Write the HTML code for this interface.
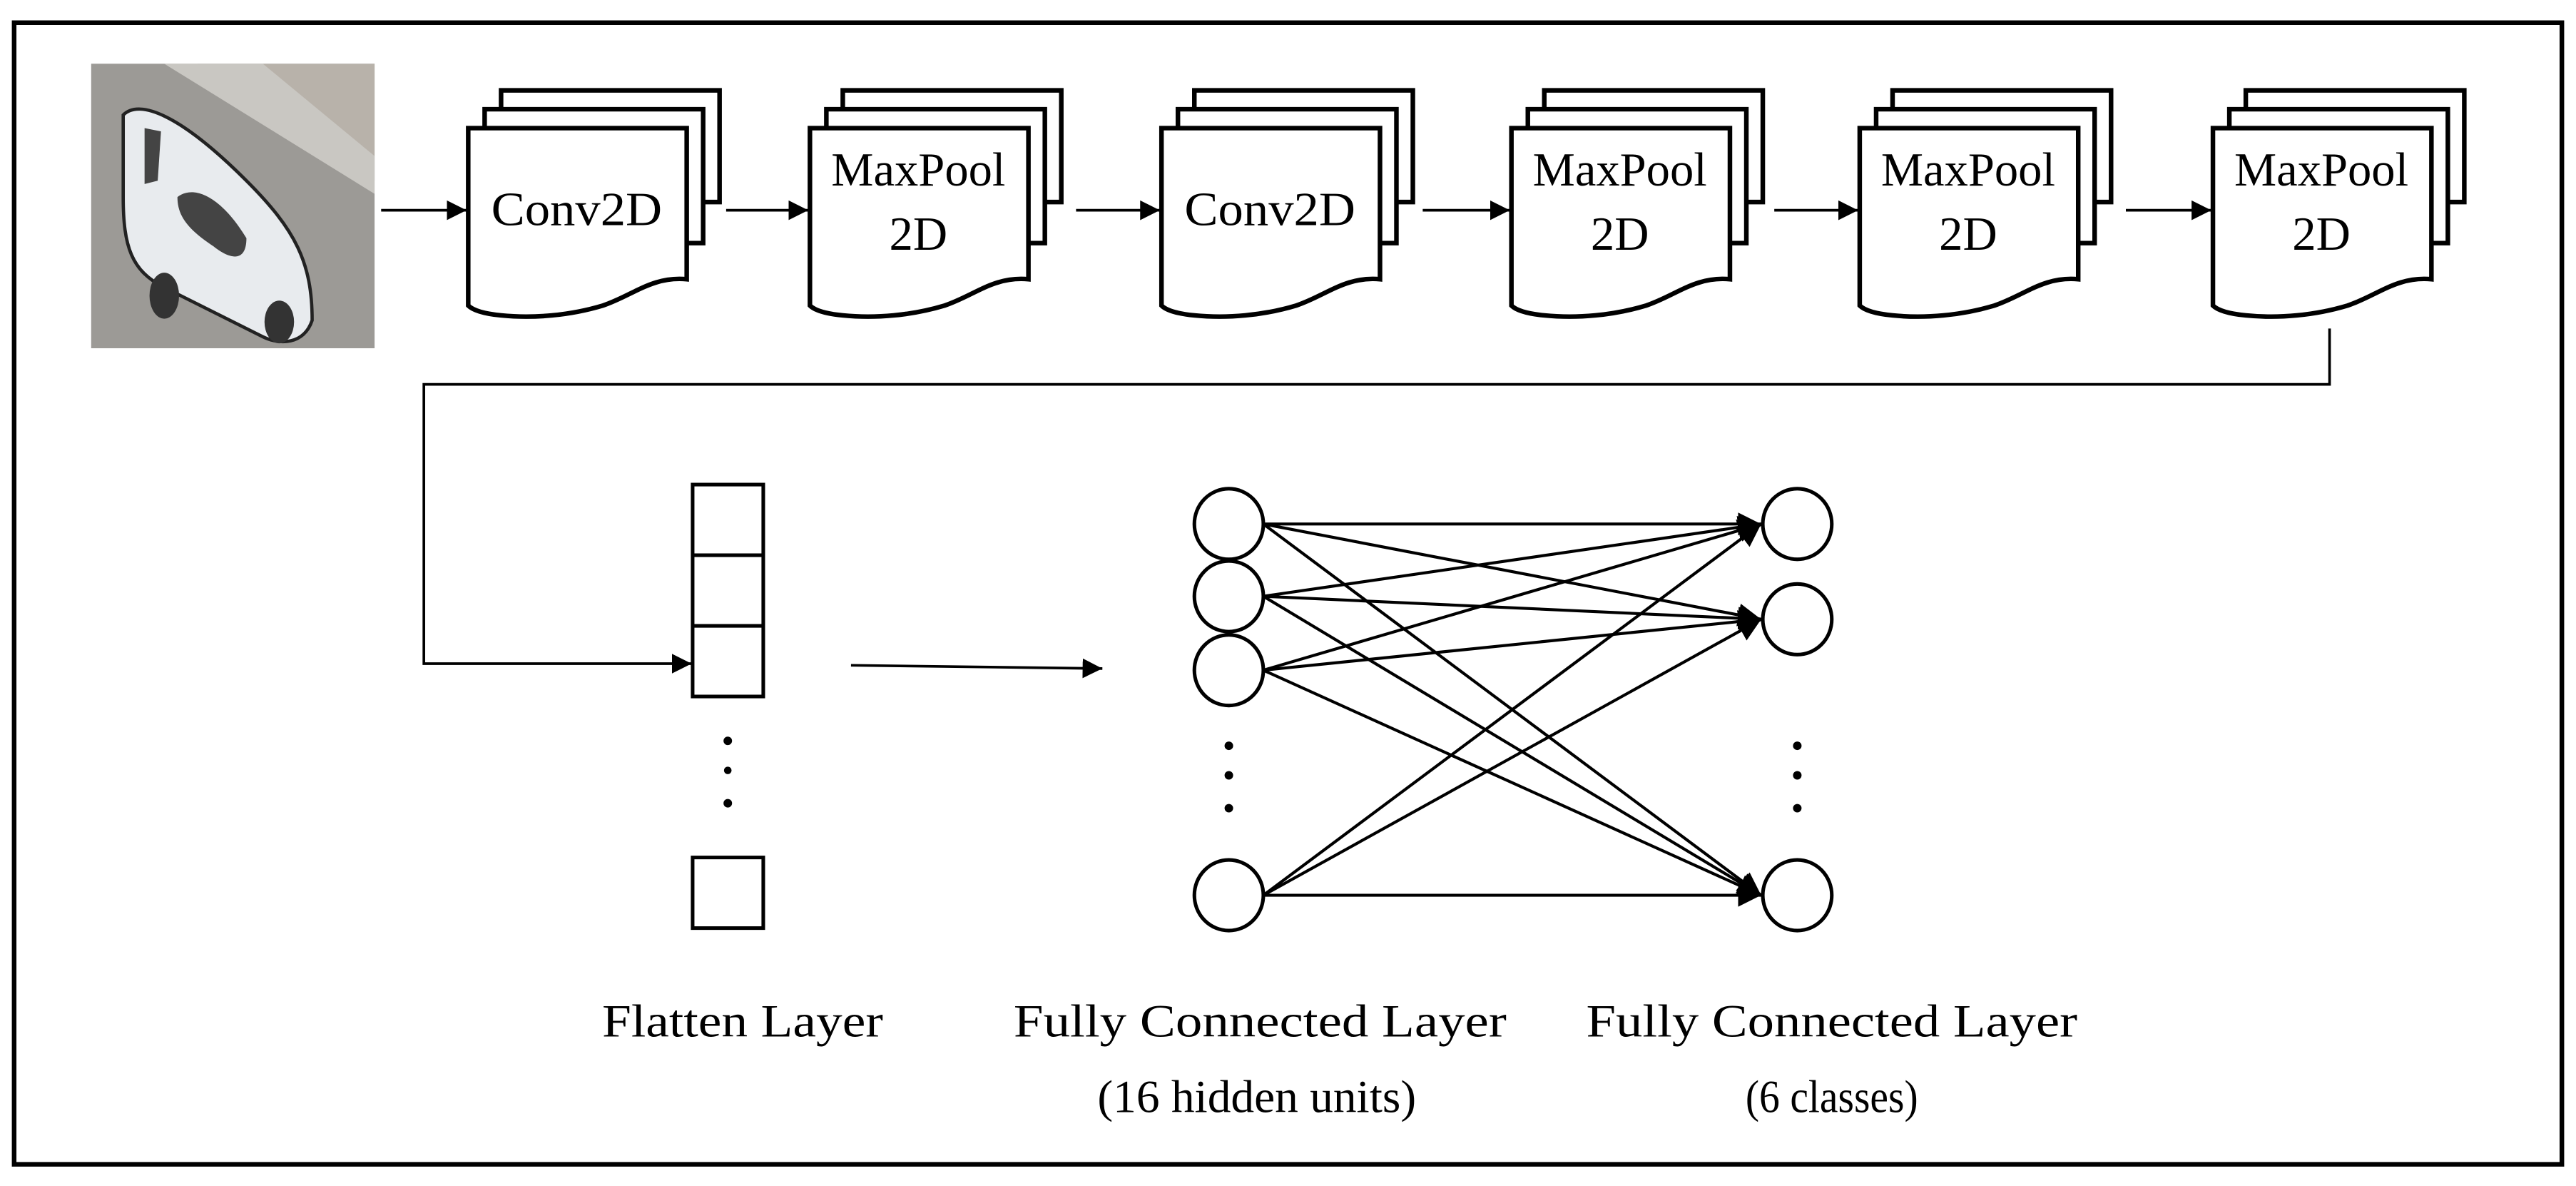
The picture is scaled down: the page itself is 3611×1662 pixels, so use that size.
<!DOCTYPE html>
<html><head><meta charset="utf-8"><style>
html,body{margin:0;padding:0;background:#fff;}
svg{display:block;}
text{font-family:"Liberation Serif",serif;fill:#000;}
</style></head><body>
<svg width="3611" height="1662" viewBox="0 0 1568 722" preserveAspectRatio="none" xmlns="http://www.w3.org/2000/svg">
<defs>
<marker id="ah" viewBox="0 0 10 10" refX="10" refY="5" markerWidth="12" markerHeight="12" markerUnits="userSpaceOnUse" orient="auto"><path d="M0,0 L10,5 L0,10 z" fill="#000"/></marker>
<marker id="ah2" viewBox="0 0 10 10" refX="10" refY="5" markerWidth="14" markerHeight="14" markerUnits="userSpaceOnUse" orient="auto"><path d="M0,0 L10,5 L0,10 z" fill="#000"/></marker>
<g id="stack">
<path d="M20,-23 L153,-23 L153,45 L20,45 z" fill="#fff" stroke="#000" stroke-width="2.8"/>
<path d="M10,-11.5 L143,-11.5 L143,70 L10,70 z" fill="#fff" stroke="#000" stroke-width="2.8"/>
<path d="M0,0 L133,0 L133,92 C112,90 100,102 82,108 C62,114 40,116 20,114 C10,113 3,111 0,108 z" fill="#fff" stroke="#000" stroke-width="2.8"/>
</g>
</defs>
<rect x="0" y="0" width="1568" height="722" fill="#fff"/>
<rect x="8.6" y="13.8" width="1550.8" height="695" fill="none" stroke="#000" stroke-width="2.8"/>

<!-- car image -->
<rect x="55.5" y="38.8" width="172.5" height="173.2" fill="#9c9a96"/>
<path d="M55.5,38.8 L228,38.8 L228,110 L175,65 L120,38.8z" fill="#b8b2aa"/>
<path d="M100,38.8 L160,38.8 L228,95 L228,118 Z" fill="#c9c7c2"/>
<path d="M75,70 C85,60 110,70 150,110 C180,140 190,160 190,195 C185,210 170,210 160,205 L100,175 C80,165 75,150 75,120 Z" fill="#e8ebee" stroke="#222" stroke-width="2"/>
<path d="M88,78 L98,80 L96,110 L88,112 Z" fill="#444"/>
<path d="M108,120 C118,112 135,120 150,145 C150,160 140,158 130,150 C115,140 108,132 108,120Z" fill="#444"/>
<ellipse cx="100" cy="180" rx="9" ry="14" fill="#333"/>
<ellipse cx="170" cy="196" rx="9" ry="13" fill="#333"/>

<g stroke="#000" stroke-width="1.6" fill="none">
<line x1="232" y1="128" x2="284" y2="128" marker-end="url(#ah)"/>
<line x1="442" y1="128" x2="492" y2="128" marker-end="url(#ah)"/>
<line x1="655" y1="128" x2="706" y2="128" marker-end="url(#ah)"/>
<line x1="866" y1="128" x2="919" y2="128" marker-end="url(#ah)"/>
<line x1="1080" y1="128" x2="1131" y2="128" marker-end="url(#ah)"/>
<line x1="1294" y1="128" x2="1346" y2="128" marker-end="url(#ah)"/>
<polyline points="1418,200 1418,234 258,234 258,404 421,404" marker-end="url(#ah)"/>
<path d="M518,405 L671,407" marker-end="url(#ah)"/>
</g>

<use href="#stack" x="285" y="78"/>
<use href="#stack" x="493" y="78"/>
<use href="#stack" x="707" y="78"/>
<use href="#stack" x="920" y="78"/>
<use href="#stack" x="1132" y="78"/>
<use href="#stack" x="1347" y="78"/>

<g font-size="29">
<text x="351" y="137" text-anchor="middle" textLength="104" lengthAdjust="spacingAndGlyphs">Conv2D</text>
<text x="559" y="113" text-anchor="middle" textLength="106" lengthAdjust="spacingAndGlyphs">MaxPool</text>
<text x="559" y="152" text-anchor="middle">2D</text>
<text x="773" y="137" text-anchor="middle" textLength="104" lengthAdjust="spacingAndGlyphs">Conv2D</text>
<text x="986" y="113" text-anchor="middle" textLength="106" lengthAdjust="spacingAndGlyphs">MaxPool</text>
<text x="986" y="152" text-anchor="middle">2D</text>
<text x="1198" y="113" text-anchor="middle" textLength="106" lengthAdjust="spacingAndGlyphs">MaxPool</text>
<text x="1198" y="152" text-anchor="middle">2D</text>
<text x="1413" y="113" text-anchor="middle" textLength="106" lengthAdjust="spacingAndGlyphs">MaxPool</text>
<text x="1413" y="152" text-anchor="middle">2D</text>
</g>

<!-- flatten -->
<g stroke="#000" stroke-width="2.2" fill="#fff">
<rect x="421.6" y="295" width="43" height="129"/>
<line x1="421.6" y1="338" x2="464.6" y2="338"/>
<line x1="421.6" y1="381" x2="464.6" y2="381"/>
<rect x="421.6" y="522" width="43" height="43"/>
</g>
<g fill="#000">
<circle cx="443" cy="451" r="2.6"/><circle cx="443" cy="469" r="2.3"/><circle cx="443" cy="489" r="2.6"/>
<circle cx="748" cy="454" r="2.6"/><circle cx="748" cy="472" r="2.6"/><circle cx="748" cy="492" r="2.6"/>
<circle cx="1094" cy="454" r="2.6"/><circle cx="1094" cy="472" r="2.6"/><circle cx="1094" cy="492" r="2.6"/>
</g>

<!-- connections -->
<g stroke="#000" stroke-width="1.8">
<line x1="769" y1="319" x2="1072" y2="319" marker-end="url(#ah2)"/>
<line x1="769" y1="319" x2="1072" y2="377" marker-end="url(#ah2)"/>
<line x1="769" y1="319" x2="1072" y2="545" marker-end="url(#ah2)"/>
<line x1="769" y1="363" x2="1072" y2="319" marker-end="url(#ah2)"/>
<line x1="769" y1="363" x2="1072" y2="377" marker-end="url(#ah2)"/>
<line x1="769" y1="363" x2="1072" y2="545" marker-end="url(#ah2)"/>
<line x1="769" y1="408" x2="1072" y2="319" marker-end="url(#ah2)"/>
<line x1="769" y1="408" x2="1072" y2="377" marker-end="url(#ah2)"/>
<line x1="769" y1="408" x2="1072" y2="545" marker-end="url(#ah2)"/>
<line x1="769" y1="545" x2="1072" y2="319" marker-end="url(#ah2)"/>
<line x1="769" y1="545" x2="1072" y2="377" marker-end="url(#ah2)"/>
<line x1="769" y1="545" x2="1072" y2="545" marker-end="url(#ah2)"/>
</g>
<g stroke="#000" stroke-width="2.2" fill="#fff">
<ellipse cx="748" cy="319" rx="21" ry="21.5"/>
<ellipse cx="748" cy="363" rx="21" ry="21.5"/>
<ellipse cx="748" cy="408" rx="21" ry="21.5"/>
<ellipse cx="748" cy="545" rx="21" ry="21.5"/>
<ellipse cx="1094" cy="319" rx="21" ry="21.5"/>
<ellipse cx="1094" cy="377" rx="21" ry="21.5"/>
<ellipse cx="1094" cy="545" rx="21" ry="21.5"/>
</g>

<g font-size="28">
<text x="452" y="631" text-anchor="middle" textLength="171" lengthAdjust="spacingAndGlyphs">Flatten Layer</text>
<text x="767" y="631" text-anchor="middle" textLength="300" lengthAdjust="spacingAndGlyphs">Fully Connected Layer</text>
<text x="765" y="677" text-anchor="middle" textLength="194" lengthAdjust="spacingAndGlyphs">(16 hidden units)</text>
<text x="1115" y="631" text-anchor="middle" textLength="299" lengthAdjust="spacingAndGlyphs">Fully Connected Layer</text>
<text x="1115" y="677" text-anchor="middle" textLength="105" lengthAdjust="spacingAndGlyphs">(6 classes)</text>
</g>
</svg>
</body></html>
